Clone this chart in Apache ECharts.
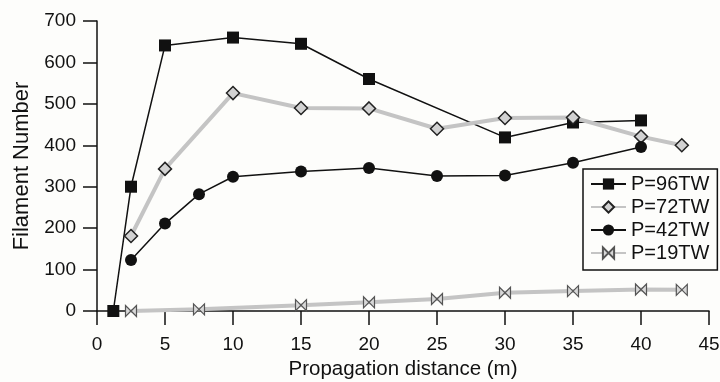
<!DOCTYPE html>
<html>
<head>
<meta charset="utf-8">
<script src="https://cdn.jsdelivr.net/npm/echarts@6/dist/echarts.min.js"></script>
<style>
  html, body { margin: 0; padding: 0; background: #fdfdfb; }
  #main { width: 720px; height: 382px; }
</style>
</head>
<body>
<div id="main"></div>
<script>
// 数据
var names = ['P=96TW', 'P=72TW', 'P=42TW', 'P=19TW'];

var x96 = [1.2, 2.5, 5, 10, 15, 20, 30, 35, 40];
var y96 = [0, 300, 641, 660, 645, 560, 419, 455, 460];

var x72 = [2.5, 5, 10, 15, 20, 25, 30, 35, 40, 43];
var y72 = [181, 343, 526, 490, 489, 440, 466, 467, 421, 400];

var x42 = [2.5, 5, 7.5, 10, 15, 20, 25, 30, 35, 40];
var y42 = [123, 211, 282, 324, 337, 345, 326, 327, 358, 396];

var x19 = [2.5, 7.5, 15, 20, 25, 30, 35, 40, 43];
var y19 = [0, 4, 14, 21, 29, 44, 48, 52, 51];

var xTicks = [0, 45, 5];   // min, max, interval
var yTicks = [0, 700, 100];

function pairs(xs, ys) {
  var out = [];
  for (var i = 0; i < xs.length; i++) {
    out.push([xs[i], ys[i]]);
  }
  return out;
}

var font = 'Liberation Sans, Arial, Helvetica, sans-serif';
var bowtie = 'path://M0,0 L0,10 L10,0 L10,10 Z';

var chart = echarts.init(document.getElementById('main'));

chart.setOption({
  backgroundColor: '#fdfdfb',
  animation: false,
  textStyle: { fontFamily: font, color: '#111' },
  grid: {
    left: 97, right: 11, top: 21, bottom: 71,
    containLabel: false,
    outerBoundsMode: 'none'
  },
  legend: {
    orient: 'vertical',
    left: 583,
    top: 169,
    padding: [5, 8, 7, 7],
    itemWidth: 35,
    itemHeight: 14,
    itemGap: 3,
    borderColor: '#111',
    borderWidth: 1.5,
    backgroundColor: '#fdfdfb',
    textStyle: { fontSize: 20, fontFamily: font, color: '#111' },
    data: names
  },
  xAxis: {
    type: 'value',
    min: xTicks[0],
    max: xTicks[1],
    interval: xTicks[2],
    name: 'Propagation distance (m)',
    nameLocation: 'middle',
    nameGap: 46,
    nameTextStyle: { fontSize: 20.5, color: '#111' },
    splitLine: { show: false },
    axisLine: { onZero: false, lineStyle: { color: '#111', width: 1.5 } },
    axisTick: { inside: false, length: 14, lineStyle: { color: '#111', width: 1.5 } },
    axisLabel: { fontSize: 19, color: '#111', margin: 24 }
  },
  yAxis: {
    type: 'value',
    min: yTicks[0],
    max: yTicks[1],
    interval: yTicks[2],
    name: 'Filament Number',
    nameLocation: 'middle',
    nameGap: 60,
    nameTextStyle: { fontSize: 22, color: '#111' },
    splitLine: { show: false },
    axisLine: { show: true, onZero: false, lineStyle: { color: '#111', width: 1.5 } },
    axisTick: { show: true, inside: false, length: 14, lineStyle: { color: '#111', width: 1.5 } },
    axisLabel: { fontSize: 19, color: '#111', margin: 21 }
  },
  series: [
    {
      name: names[0],
      type: 'line',
      data: pairs(x96, y96),
      symbol: 'rect',
      symbolSize: 12,
      lineStyle: { color: '#111', width: 1.5 },
      itemStyle: { color: '#111', borderColor: '#111', borderWidth: 0 }
    },
    {
      name: names[1],
      type: 'line',
      data: pairs(x72, y72),
      symbol: 'diamond',
      symbolSize: 13,
      lineStyle: { color: '#c4c4c4', width: 4 },
      itemStyle: { color: '#d2d2d2', borderColor: '#222', borderWidth: 1.5 }
    },
    {
      name: names[2],
      type: 'line',
      data: pairs(x42, y42),
      symbol: 'circle',
      symbolSize: 12,
      lineStyle: { color: '#111', width: 1.5 },
      itemStyle: { color: '#111', borderColor: '#111', borderWidth: 0 }
    },
    {
      name: names[3],
      type: 'line',
      data: pairs(x19, y19),
      symbol: bowtie,
      symbolSize: 11,
      lineStyle: { color: '#c4c4c4', width: 4 },
      itemStyle: { color: '#d8d8d8', borderColor: '#555', borderWidth: 1.2 }
    }
  ]
});
</script>
</body>
</html>
